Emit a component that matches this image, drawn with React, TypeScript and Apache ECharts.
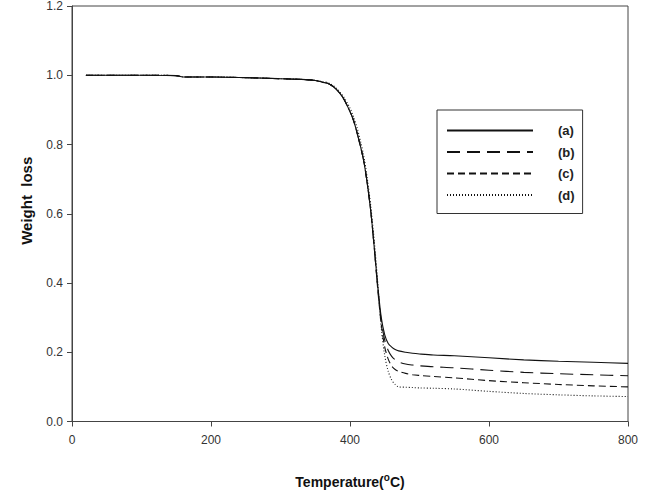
import React, { useEffect, useRef } from "react";
import * as echarts from "echarts";

const temps = [20, 50, 100, 150, 160, 200, 250, 300, 330, 350, 360, 370, 380, 390, 400, 405, 410, 415, 420, 425, 430, 435, 440, 445, 450, 455, 460, 465, 470, 480, 490, 500, 520, 550, 600, 650, 700, 750, 800];

const seriesA = [1.0, 1.0, 1.0, 0.999, 0.995, 0.995, 0.993, 0.99, 0.988, 0.985, 0.98, 0.975, 0.96, 0.935, 0.895, 0.87, 0.835, 0.795, 0.75, 0.685, 0.605, 0.5, 0.39, 0.3, 0.25, 0.225, 0.215, 0.208, 0.204, 0.2, 0.197, 0.195, 0.192, 0.19, 0.184, 0.178, 0.174, 0.171, 0.168];
const seriesB = [1.0, 1.0, 1.0, 0.999, 0.995, 0.995, 0.993, 0.99, 0.988, 0.985, 0.98, 0.975, 0.96, 0.935, 0.895, 0.87, 0.835, 0.795, 0.75, 0.685, 0.605, 0.5, 0.385, 0.29, 0.235, 0.205, 0.188, 0.178, 0.172, 0.166, 0.163, 0.161, 0.158, 0.155, 0.148, 0.142, 0.138, 0.135, 0.132];
const seriesC = [1.0, 1.0, 1.0, 0.999, 0.995, 0.995, 0.993, 0.99, 0.988, 0.985, 0.98, 0.975, 0.96, 0.935, 0.895, 0.87, 0.835, 0.795, 0.75, 0.685, 0.605, 0.5, 0.38, 0.28, 0.215, 0.18, 0.16, 0.15, 0.145, 0.139, 0.135, 0.133, 0.13, 0.126, 0.118, 0.112, 0.107, 0.103, 0.1];
const seriesD = [1.0, 1.0, 1.0, 0.999, 0.995, 0.995, 0.993, 0.99, 0.988, 0.985, 0.982, 0.977, 0.963, 0.94, 0.905, 0.88, 0.85, 0.81, 0.765, 0.7, 0.62, 0.52, 0.4, 0.27, 0.19, 0.145, 0.12, 0.107, 0.1, 0.099, 0.098, 0.097, 0.096, 0.094, 0.087, 0.081, 0.077, 0.074, 0.072];

const seriesNames = ["(a)", "(b)", "(c)", "(d)"];
const xTicks = { min: 0, max: 800, interval: 200 };
const yTicks = { min: 0, max: 1.2, interval: 0.2 };

export default function App() {
  const ref = useRef<HTMLDivElement>(null);
  useEffect(() => {
    if (!ref.current) return;
    const chart = echarts.init(ref.current, null, { renderer: "svg" });
    const values = [seriesA, seriesB, seriesC, seriesD];
    const styles: any[] = [
      { type: "solid", width: 1.1 },
      { type: [13, 7], width: 1.1 },
      { type: [7, 4], width: 1.1 },
      { type: [1, 2], width: 1.1 },
    ];
    const font = "'Liberation Sans', Arial, sans-serif";
    chart.setOption({
      animation: false,
      grid: { left: 72, right: 21, top: 6, bottom: 68, show: true, borderColor: "#444", borderWidth: 1 },
      legend: {
        orient: "vertical",
        left: 437,
        top: 110,
        itemWidth: 86,
        itemHeight: 14,
        itemGap: 8.5,
        padding: [14, 8, 12, 9],
        borderColor: "#333",
        borderWidth: 1,
        itemStyle: { color: "transparent", borderColor: "transparent", borderWidth: 0 },
        textStyle: { fontFamily: font, fontSize: 13, fontWeight: "bold", color: "#222", padding: [2, 0, 2, 20] },
        data: seriesNames,
      },
      xAxis: {
        type: "value",
        min: xTicks.min,
        max: xTicks.max,
        interval: xTicks.interval,
        name: "Temperature({sup|o}C)",
        nameLocation: "middle",
        nameGap: 51,
        nameTextStyle: {
          fontFamily: font, fontSize: 14, fontWeight: "bold", color: "#111",
          rich: { sup: { fontFamily: font, fontSize: 10, fontWeight: "bold", color: "#111", padding: [0, 0, 9, 0] } },
        },
        axisLine: { lineStyle: { color: "#444" } },
        axisTick: { inside: false, length: 5, lineStyle: { color: "#444" } },
        axisLabel: { fontFamily: font, fontSize: 12, color: "#333", margin: 12 },
        splitLine: { show: false },
      },
      yAxis: {
        type: "value",
        min: yTicks.min,
        max: yTicks.max,
        interval: yTicks.interval,
        name: "Weight  loss",
        nameLocation: "middle",
        nameGap: 38,
        nameTextStyle: { fontFamily: font, fontSize: 15, fontWeight: "bold", color: "#111", padding: [0, 0, 0, 26] },
        axisLine: { lineStyle: { color: "#444" } },
        axisTick: { inside: false, length: 5, lineStyle: { color: "#444" } },
        axisLabel: { fontFamily: font, fontSize: 12, color: "#333", margin: 9, formatter: (v: number) => v.toFixed(1) },
        splitLine: { show: false },
      },
      series: values.map((vals, i) => ({
        name: seriesNames[i],
        type: "line",
        symbol: "none",
        showSymbol: false,
        smooth: 0.3,
        lineStyle: { color: "#111", ...styles[i] },
        itemStyle: { color: "#111" },
        data: temps.map((t, j) => [t, vals[j]]),
      })),
    });
    return () => chart.dispose();
  }, []);
  return <div ref={ref} style={{ width: 649, height: 494, position: "absolute", left: 0, top: 0 }} />;
}
